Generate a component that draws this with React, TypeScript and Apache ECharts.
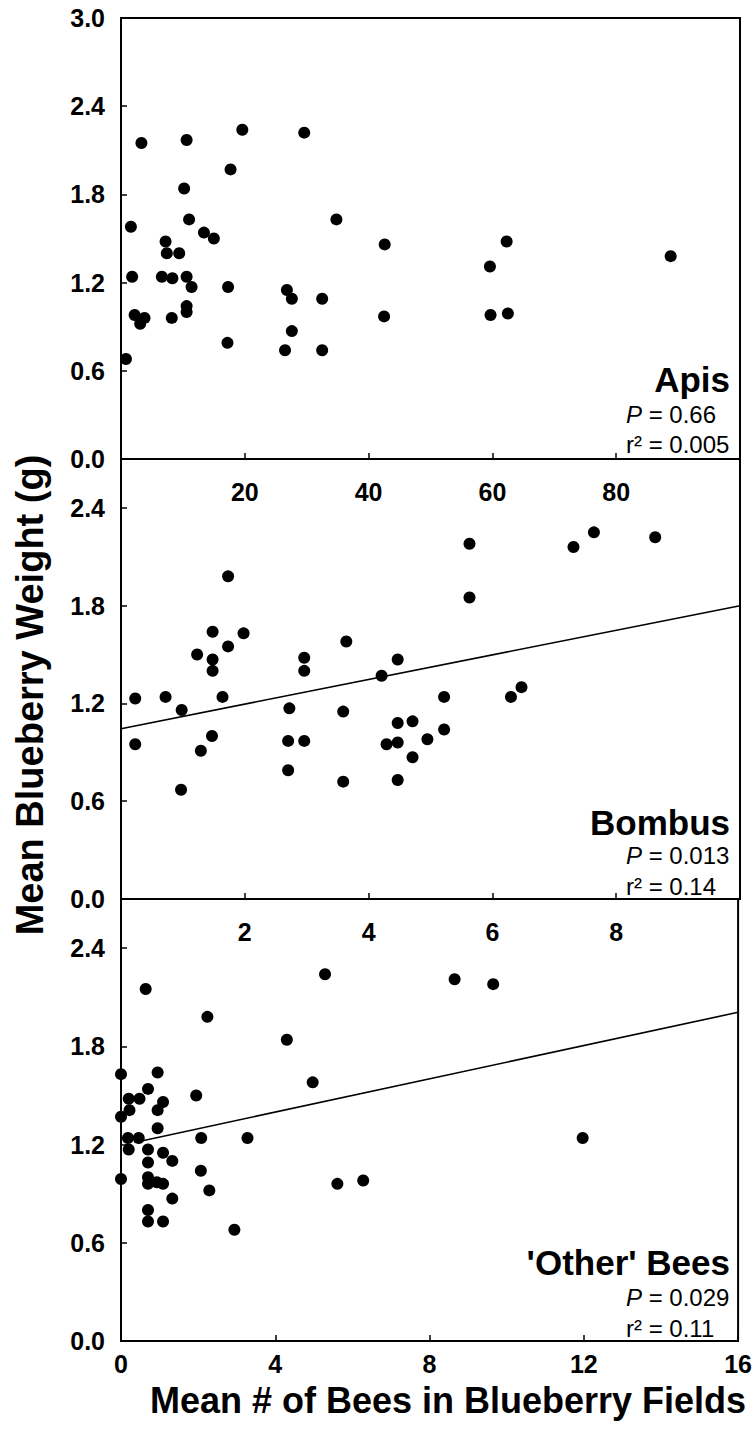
import React, { useEffect, useRef } from "react";
import * as echarts from "echarts";

// Apis: [mean # of bees, mean berry weight (g)]
const apisPoints = [
  [3.3, 2.15], [10.6, 2.17], [19.6, 2.24], [29.6, 2.22], [17.7, 1.97], [10.2, 1.84],
  [1.6, 1.58], [11.0, 1.63], [34.8, 1.63], [13.4, 1.54], [15.0, 1.5], [7.2, 1.48],
  [7.4, 1.4], [9.4, 1.4], [42.6, 1.46], [1.8, 1.24], [6.6, 1.24], [8.3, 1.23],
  [10.6, 1.24], [11.4, 1.17], [17.3, 1.17], [26.8, 1.15], [27.6, 1.09], [32.5, 1.09],
  [2.2, 0.98], [3.8, 0.96], [3.1, 0.92], [8.2, 0.96], [10.6, 1.04], [10.6, 1.0],
  [42.5, 0.97], [27.6, 0.87], [17.2, 0.79], [26.5, 0.74], [32.5, 0.74], [0.8, 0.68],
  [62.3, 1.48], [59.6, 1.31], [59.7, 0.98], [62.5, 0.99], [88.8, 1.38],
];

const bombusPoints = [
  [1.73, 1.98], [1.48, 1.64], [1.98, 1.63], [1.73, 1.55], [1.23, 1.5], [1.48, 1.47],
  [1.48, 1.4], [2.96, 1.48], [2.96, 1.4], [3.64, 1.58], [4.47, 1.47], [4.21, 1.37],
  [0.23, 1.23], [0.72, 1.24], [1.64, 1.24], [0.98, 1.16], [2.72, 1.17], [3.59, 1.15],
  [4.47, 1.08], [4.71, 1.09], [0.23, 0.95], [1.47, 1.0], [1.29, 0.91], [2.7, 0.97],
  [2.96, 0.97], [4.29, 0.95], [4.47, 0.96], [4.95, 0.98], [4.71, 0.87], [2.7, 0.79],
  [3.59, 0.72], [4.47, 0.73], [0.97, 0.67], [5.63, 2.18], [5.63, 1.85], [7.31, 2.16],
  [7.64, 2.25], [8.63, 2.22], [5.22, 1.24], [5.22, 1.04], [6.3, 1.24], [6.47, 1.3],
];

const otherPoints = [
  [0.64, 2.15], [5.29, 2.24], [8.65, 2.21], [9.65, 2.18], [2.24, 1.98], [4.3, 1.84],
  [4.97, 1.58], [0.0, 1.63], [0.95, 1.64], [0.7, 1.54], [0.2, 1.48], [0.48, 1.48],
  [1.09, 1.46], [1.95, 1.5], [0.22, 1.41], [0.95, 1.41], [0.0, 1.37], [0.95, 1.3],
  [0.18, 1.24], [0.46, 1.24], [2.08, 1.24], [3.28, 1.24], [11.97, 1.24], [0.2, 1.17],
  [0.7, 1.17], [1.09, 1.15], [1.33, 1.1], [0.7, 1.09], [2.07, 1.04], [0.0, 0.99],
  [0.7, 1.0], [0.7, 0.96], [0.93, 0.97], [1.09, 0.96], [5.61, 0.96], [6.28, 0.98],
  [2.29, 0.92], [1.33, 0.87], [0.7, 0.8], [0.7, 0.73], [1.09, 0.73], [2.94, 0.68],
];

const bombusFit = [[0, 1.045], [10, 1.8]];
const otherFit = [[0.35, 1.213], [16, 2.008]];

const panelNames = ["Apis", "Bombus", "'Other' Bees"];
const panelP = ["0.66", "0.013", "0.029"];
const panelR2 = ["0.005", "0.14", "0.11"];

const xMax = [100, 10, 16];
const xInterval = [20, 2, 4];
const yMax = [3.0, 2.7, 2.7];
const yInterval = 0.6;

const FONT = "'Liberation Sans', Arial, Helvetica, sans-serif";

export default function App() {
  const ref = useRef<HTMLDivElement>(null);

  useEffect(() => {
    if (!ref.current) return;
    const chart = echarts.init(ref.current, null, { renderer: "svg" });

    const L = 121;
    const W = 619;
    const tops = [18, 459, 899];
    const heights = [441, 440, 442];

    const grids = tops.map((t, i) => ({
      left: L,
      top: t,
      width: W,
      height: heights[i],
      show: true,
      borderColor: "#000",
      borderWidth: 2,
      backgroundColor: "transparent",
    }));

    const labelStyle = {
      fontFamily: FONT,
      fontWeight: "bold" as const,
      fontSize: 25,
      color: "#000",
    };

    const xAxes = [0, 1, 2].map((i) => ({
      type: "value",
      gridIndex: i,
      min: 0,
      max: xMax[i],
      interval: xInterval[i],
      splitLine: { show: false },
      axisLine: { show: true, lineStyle: { color: "#000", width: 2 } },
      axisTick: { show: true, inside: true, length: 6, lineStyle: { color: "#000", width: 1.5 } },
      axisLabel: {
        ...labelStyle,
        margin: i === 2 ? 10 : 20,
        showMinLabel: i === 2,
        showMaxLabel: i === 2,
      },
    }));

    const yAxes = [0, 1, 2].map((i) => ({
      type: "value",
      gridIndex: i,
      min: 0,
      max: yMax[i],
      interval: yInterval,
      splitLine: { show: false },
      axisLine: { show: true, lineStyle: { color: "#000", width: 2 } },
      axisTick: { show: true, inside: true, length: 6, lineStyle: { color: "#000", width: 1.5 } },
      axisLabel: {
        ...labelStyle,
        margin: 16,
        showMaxLabel: i === 0,
        formatter: (v: number) => v.toFixed(1),
      },
    }));

    const scatterStyle = { color: "#000", opacity: 1 };
    const series: any[] = [
      { type: "scatter", xAxisIndex: 0, yAxisIndex: 0, data: apisPoints, symbolSize: 12, itemStyle: scatterStyle },
      { type: "scatter", xAxisIndex: 1, yAxisIndex: 1, data: bombusPoints, symbolSize: 12, itemStyle: scatterStyle },
      { type: "scatter", xAxisIndex: 2, yAxisIndex: 2, data: otherPoints, symbolSize: 12, itemStyle: scatterStyle },
      { type: "line", xAxisIndex: 1, yAxisIndex: 1, data: bombusFit, showSymbol: false, symbol: "none", lineStyle: { color: "#000", width: 1.6 } },
      { type: "line", xAxisIndex: 2, yAxisIndex: 2, data: otherFit, showSymbol: false, symbol: "none", lineStyle: { color: "#000", width: 1.6 } },
    ];

    const nameTop = [362, 805, 1245];
    const pY = [414, 855, 1297];
    const rY = [444, 886, 1328];
    const graphics: any[] = [];
    for (let i = 0; i < 3; i++) {
      graphics.push({
        type: "text",
        right: 755 - 730,
        top: nameTop[i],
        style: { text: panelNames[i], font: `bold 35px ${FONT}`, fill: "#000" },
      });
      graphics.push({
        type: "text",
        left: 626,
        top: pY[i] - 12,
        style: {
          text: `{i|P} = ${panelP[i]}`,
          font: `24px ${FONT}`,
          fill: "#000",
          rich: { i: { fontStyle: "italic", fontSize: 24, fontFamily: FONT } },
        },
      });
      graphics.push({
        type: "text",
        left: 626,
        top: rY[i] - 12,
        style: { text: `r\u00B2 = ${panelR2[i]}`, font: `24px ${FONT}`, fill: "#000" },
      });
    }
    graphics.push({
      type: "text",
      x: 448,
      y: 1400,
      style: {
        text: "Mean # of Bees in Blueberry Fields",
        font: `bold 36px ${FONT}`,
        fill: "#000",
        align: "center",
        verticalAlign: "middle",
      },
    });
    graphics.push({
      type: "text",
      x: 30,
      y: 695,
      rotation: Math.PI / 2,
      style: {
        text: "Mean Blueberry Weight (g)",
        font: `bold 38px ${FONT}`,
        fill: "#000",
        align: "center",
        verticalAlign: "middle",
      },
    });

    chart.setOption({
      animation: false,
      backgroundColor: "#fff",
      grid: grids,
      xAxis: xAxes,
      yAxis: yAxes,
      series,
      graphic: graphics,
    });

    return () => chart.dispose();
  }, []);

  return (
    <div
      ref={ref}
      style={{ position: "absolute", left: 0, top: 0, width: 755, height: 1433, background: "#fff" }}
    />
  );
}
